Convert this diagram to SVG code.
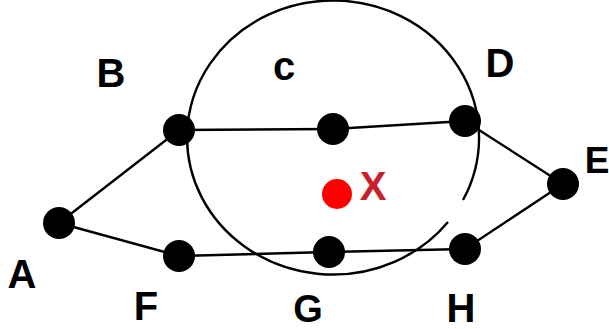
<svg xmlns="http://www.w3.org/2000/svg" width="609" height="329" viewBox="0 0 609 329">
<style>
.e{stroke:#000;stroke-width:2.4;fill:none}
.n{fill:#000}
.t{font-family:"Liberation Sans",Arial,sans-serif;font-weight:bold;font-size:40px;text-anchor:middle;fill:#000}
</style>
<rect width="609" height="329" fill="#fff"/>
<path id="circle" class="e" d="M463,200 A146,137 0 1 0 448,222"/>
<g id="connectors">
<line class="e" x1="59" y1="223" x2="179" y2="130"/>
<line class="e" x1="59" y1="223" x2="179" y2="256"/>
<line class="e" x1="179" y1="130" x2="333" y2="129"/>
<line class="e" x1="333" y1="129" x2="465" y2="121"/>
<line class="e" x1="465" y1="121" x2="563" y2="184"/>
<line class="e" x1="563" y1="184" x2="465" y2="249"/>
<line class="e" x1="179" y1="256" x2="329" y2="252"/>
<line class="e" x1="329" y1="252" x2="465" y2="249"/>
</g>
<g id="A"><circle class="n" cx="59" cy="223" r="16"/><text class="t" x="22" y="288">A</text></g>
<g id="B"><circle class="n" cx="179" cy="130" r="16"/><text class="t" x="111" y="87">B</text></g>
<g id="C"><circle class="n" cx="333" cy="129" r="16"/><text class="t" x="284" y="80">c</text></g>
<g id="D"><circle class="n" cx="465" cy="121" r="16"/><text class="t" x="500" y="77">D</text></g>
<g id="E"><circle class="n" cx="563" cy="184" r="16"/><text class="t" x="597" y="173" style="font-size:37px">E</text></g>
<g id="F"><circle class="n" cx="179" cy="256" r="16"/><text class="t" x="146" y="320">F</text></g>
<g id="G"><circle class="n" cx="329" cy="252" r="16"/><text class="t" x="308" y="322" style="font-size:38px">G</text></g>
<g id="H"><circle class="n" cx="465" cy="249" r="16"/><text class="t" x="461" y="322">H</text></g>
<g id="X"><circle cx="337" cy="194" r="15" fill="#f00"/><text class="t" x="373" y="200" style="fill:#c8202a">X</text></g>
</svg>
